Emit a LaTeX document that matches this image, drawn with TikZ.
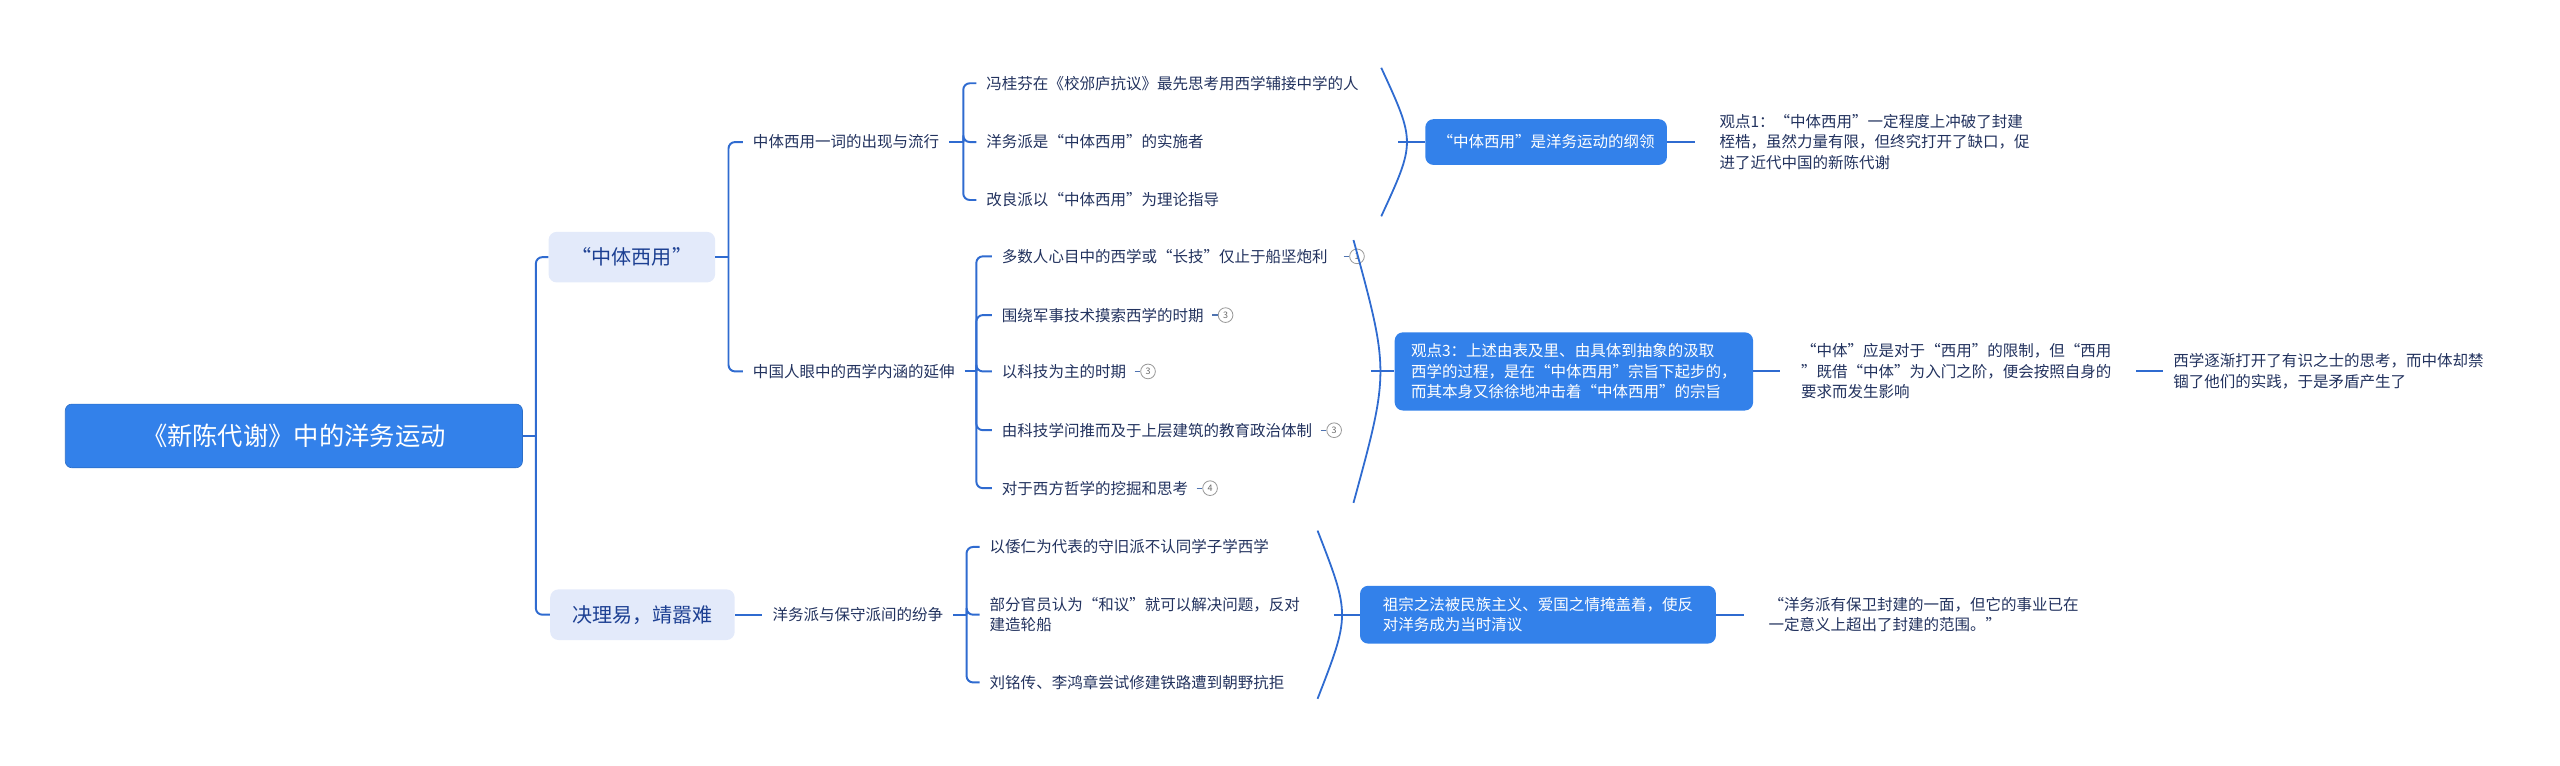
\documentclass[tikz,border=0pt]{standalone}
\usepackage{fontspec}
\setmainfont{Noto Sans CJK SC}
\usetikzlibrary{positioning}

\definecolor{linkblue}{HTML}{2F6BD0}
\definecolor{rootblue}{HTML}{3381EA}
\definecolor{paleblue}{HTML}{E3EAFA}
\definecolor{deepblue}{HTML}{1C3F92}
\definecolor{navy}{HTML}{22325E}

\newcommand\fsroot{\fontsize{15.5}{18}\selectfont}
\newcommand\fstopic{\fontsize{12.3}{15}\selectfont}
\newcommand\fsleaf{\fontsize{9.5}{12.5}\selectfont}

\tikzset{
  link/.style={linkblue,line width=1.2pt,rounded corners=4pt},
  brace/.style={linkblue,line width=1.1pt},
  rootbox/.style={fill=rootblue,draw=rootblue!85!black,line width=0.4pt,rounded corners=4pt,
    text=white,font=\fsroot,minimum width=280pt,minimum height=39pt},
  topicbox/.style={fill=paleblue,rounded corners=5pt,text=deepblue,font=\fstopic,
    inner xsep=0pt,minimum height=31pt},
  sumbox/.style={fill=rootblue,rounded corners=5pt,text=white,font=\fsleaf,align=left,
    inner xsep=10pt,inner ysep=7pt},
  leaf/.style={anchor=west,text=navy,font=\fsleaf,inner xsep=6pt,inner ysep=2pt,align=left},
  badge/.style={circle,draw=gray!80,line width=0.5pt,minimum size=9pt,inner sep=0pt,
    font=\fontsize{5.5}{6}\selectfont,text=gray!80!black},
  badgelink/.style={linkblue!60!gray,line width=0.8pt},
}

\begin{document}
\begin{tikzpicture}[x=1pt,y=-1pt]
  \useasboundingbox (0,0) rectangle (1568,468.6);

  % root and the two main topics
  \node[rootbox] (root) at (180,267) {《新陈代谢》中的洋务运动};
  \node[topicbox,minimum width=102pt] (zt) at (387,157.5) {“中体西用”};
  \node[topicbox,minimum width=113pt] (jl) at (393.5,376.5) {决理易，靖嚣难};
  \coordinate (kr) at ([xshift=8pt]root.east);
  \draw[link] (root.east) -- (kr);
  \draw[link] (kr) |- (zt.west);
  \draw[link] (kr) |- (jl.west);

  % first topic
  \node[leaf] (m1) at (455,87) {中体西用一词的出现与流行};
  \node[leaf] (m2) at (455,227.5) {中国人眼中的西学内涵的延伸};
  \coordinate (kz) at ([xshift=8pt]zt.east);
  \draw[link] (zt.east) -- (kz);
  \draw[link] (kz) |- (m1.west);
  \draw[link] (kz) |- (m2.west);

  \node[leaf] (a1) at (598,51) {冯桂芬在《校邠庐抗议》最先思考用西学辅接中学的人};
  \node[leaf] (a2) at (598,87) {洋务派是“中体西用”的实施者};
  \node[leaf] (a3) at (598,122.5) {改良派以“中体西用”为理论指导};
  \coordinate (ka) at ([xshift=-8pt]a2.west);
  \draw[link] (m1.east) -- (ka);
  \foreach \n in {a1,a2,a3}
    \draw[link] (ka) |- (\n.west);

  \node[leaf] (b1) at (607.5,157) {多数人心目中的西学或“长技”仅止于船坚炮利};
  \node[leaf] (b2) at (607.5,193) {围绕军事技术摸索西学的时期};
  \node[leaf] (b3) at (607.5,227.5) {以科技为主的时期};
  \node[leaf] (b4) at (607.5,263.5) {由科技学问推而及于上层建筑的教育政治体制};
  \node[leaf] (b5) at (607.5,299) {对于西方哲学的挖掘和思考};
  \coordinate (kb) at ([xshift=-9.5pt]b3.west);
  \draw[link] (m2.east) -- (kb);
  \foreach \n in {b1,b2,b3,b4,b5}
    \draw[link] (kb) |- (\n.west);

  % little numbered marks
  \node[badge,right=7pt of b1] (n1) {1};
  \node[badge,right=2.5pt of b2] (n2) {3};
  \node[badge,right=2.5pt of b3] (n3) {3};
  \node[badge,right=2.5pt of b4] (n4) {3};
  \node[badge,right=2.5pt of b5] (n5) {4};
  \foreach \i in {1,...,5}
    \draw[badgelink] ([xshift=-3.5pt]n\i.west) -- (n\i.west);

  % summaries of the first topic
  \coordinate (s1t) at (846,41.5);
  \coordinate (s1b) at (846,132.5);
  \coordinate (s1m) at (856.5,87);
  \draw[brace] (s1t) .. controls (867,87) .. (s1b);
  \node[sumbox,minimum width=148pt,minimum height=28pt,inner xsep=4pt] (g1) at (947,87) {“中体西用”是洋务运动的纲领};
  \draw[link] (s1m) -- (g1.west);
  \node[leaf] (p1) at (1047,87) {观点1：“中体西用”一定程度上冲破了封建\\桎梏，虽然力量有限，但终究打开了缺口，促\\进了近代中国的新陈代谢};
  \draw[link,shorten >=9pt] (g1.east) -- (p1.west);

  \coordinate (s2t) at (829,147);
  \coordinate (s2b) at (829,308);
  \coordinate (s2m) at (840,227.5);
  \draw[brace] (s2t) .. controls (851,227.5) .. (s2b);
  \node[sumbox] (g2) at (964,227.5) {观点3：上述由表及里、由具体到抽象的汲取\\西学的过程，是在“中体西用”宗旨下起步的，\\而其本身又徐徐地冲击着“中体西用”的宗旨};
  \draw[link] (s2m) -- (g2.west);
  \node[leaf] (p2) at (1097,227.5) {“中体”应是对于“西用”的限制，但“西用\\”既借“中体”为入门之阶，便会按照自身的\\要求而发生影响};
  \draw[link,shorten >=7pt] (g2.east) -- (p2.west);
  \node[leaf] (p3) at (1325,227.5) {西学逐渐打开了有识之士的思考，而中体却禁\\锢了他们的实践，于是矛盾产生了};
  \draw[link,shorten <=9pt] (p2.east) -- (p3.west);

  % second topic
  \node[leaf] (m3) at (467,376.5) {洋务派与保守派间的纷争};
  \draw[link] (jl.east) -- (m3.west);

  \node[leaf] (c1) at (600,335) {以倭仁为代表的守旧派不认同学子学西学};
  \node[leaf] (c2) at (600,376.5) {部分官员认为“和议”就可以解决问题，反对\\建造轮船};
  \node[leaf] (c3) at (600,418) {刘铭传、李鸿章尝试修建铁路遭到朝野抗拒};
  \coordinate (kc) at ([xshift=-8pt]c2.west);
  \draw[link] (m3.east) -- (kc);
  \foreach \n in {c1,c2,c3}
    \draw[link] (kc) |- (\n.west);

  \coordinate (s3t) at (807,325);
  \coordinate (s3b) at (807,428);
  \coordinate (s3m) at (817,376.5);
  \draw[brace] (s3t) .. controls (827,376.5) .. (s3b);
  \node[sumbox,inner xsep=14pt,minimum width=218pt] (g3) at (942,376.5) {祖宗之法被民族主义、爱国之情掩盖着，使反\\对洋务成为当时清议};
  \draw[link] (s3m) -- (g3.west);
  \node[leaf] (p4) at (1077,376.5) {“洋务派有保卫封建的一面，但它的事业已在\\一定意义上超出了封建的范围。”};
  \draw[link,shorten >=9pt] (g3.east) -- (p4.west);
\end{tikzpicture}
\end{document}
